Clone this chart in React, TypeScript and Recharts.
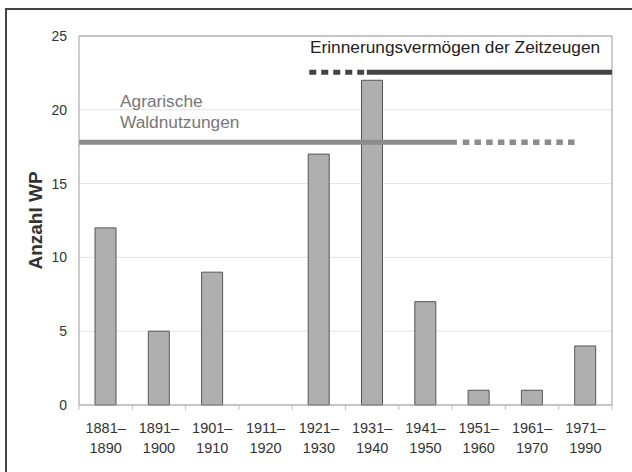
import React from 'react';
import { BarChart, Bar, XAxis, YAxis, CartesianGrid, ReferenceLine, Label } from 'recharts';

// ---- data ----
const periods = [
  '1881–1890', '1891–1900', '1901–1910', '1911–1920', '1921–1930',
  '1931–1940', '1941–1950', '1951–1960', '1961–1970', '1971–1990',
];
const counts = [12, 5, 9, 0, 17, 22, 7, 1, 1, 4];
const yTicks = [0, 5, 10, 15, 20, 25];

// overlay bars (in category-index units 0..10)
const agrarLevel = 17.8;
const agrarSolid = [0, 7.09];
const agrarDotted = [7.2, 9.3];
const memoryLevel = 22.55;
const memoryDotted = [4.32, 5.35];
const memorySolid = [5.4, 10];

const data = periods.map((p, i) => ({ period: p, count: counts[i], slot: i }));

const FONT = '"Liberation Sans", Arial, Helvetica, sans-serif';

const PeriodTick = (props: any) => {
  const { x, y, payload } = props;
  const [a, b] = String(payload.value).split('–');
  const half = payload.offset ?? 0;
  const isLast = payload.value === periods[periods.length - 1];
  return (
    <g>
      <line x1={x - half} x2={x - half} y1={y} y2={y + 5} stroke="#bdbdbd" />
      {isLast && <line x1={x + half} x2={x + half} y1={y} y2={y + 5} stroke="#bdbdbd" />}
      <text x={x} y={y + 28} textAnchor="middle" fontSize={14.5} fill="#333" fontFamily={FONT}>
        {a}–
      </text>
      <text x={x} y={y + 48} textAnchor="middle" fontSize={14.5} fill="#333" fontFamily={FONT}>
        {b}
      </text>
    </g>
  );
};

const YLabel = (p: any) => {
  const vb = p.viewBox || { x: 0, y: 36, width: 79, height: 369 };
  const cx = vb.x + 35;
  const cy = vb.y + vb.height / 2;
  return (
    <text
      x={cx}
      y={cy}
      transform={`rotate(-90 ${cx} ${cy})`}
      textAnchor="middle"
      dominantBaseline="central"
      fontSize={19}
      fontWeight="bold"
      fill="#333"
      fontFamily={FONT}
    >
      Anzahl WP
    </text>
  );
};

export default function App() {
  return (
    <div
      style={{
        position: 'absolute',
        left: 0,
        top: 0,
        width: 632,
        height: 472,
        overflow: 'hidden',
        background: '#fff',
        fontFamily: FONT,
      }}
    >
      <div
        style={{
          position: 'absolute',
          left: 5,
          top: 8,
          width: 700,
          height: 600,
          borderLeft: '2px solid #444',
          borderTop: '2px solid #444',
        }}
      />
      <div style={{ position: 'absolute', left: 0, top: 0 }}>
        <BarChart
          width={632}
          height={472}
          data={data}
          margin={{ top: 36, right: 20, bottom: 7, left: 0 }}
        >
          <CartesianGrid vertical={false} stroke="#e4e4e4" />
          <XAxis
            dataKey="period"
            height={60}
            interval={0}
            tickSize={0}
            tickMargin={0}
            tickLine={false}
            axisLine={{ stroke: '#9a9a9a' }}
            tick={<PeriodTick />}
          />
          <XAxis
            xAxisId="num"
            dataKey="slot"
            type="number"
            domain={[0, 10]}
            allowDataOverflow={true}
            hide
          />
          <YAxis
            width={79}
            domain={[0, 25]}
            ticks={yTicks}
            interval={0}
            tickLine={false}
            tickSize={0}
            tickMargin={12}
            axisLine={{ stroke: '#9a9a9a' }}
            tick={{ fontSize: 14, fill: '#333', fontFamily: FONT }}
          >
            <Label content={<YLabel />} />
          </YAxis>
          <Bar
            dataKey="count"
            barSize={21}
            fill="#afafaf"
            stroke="#555"
            strokeWidth={1}
            isAnimationActive={false}
          />
          <ReferenceLine y={25} stroke="#9a9a9a" />
          <ReferenceLine xAxisId="num" x={10} stroke="#9a9a9a" ifOverflow="visible" />
          <ReferenceLine
            xAxisId="num"
            segment={[{ x: agrarSolid[0], y: agrarLevel }, { x: agrarSolid[1], y: agrarLevel }]}
            stroke="#8c8c8c"
            strokeWidth={5}
            ifOverflow="visible"
          />
          <ReferenceLine
            xAxisId="num"
            segment={[{ x: agrarDotted[0], y: agrarLevel }, { x: agrarDotted[1], y: agrarLevel }]}
            stroke="#8c8c8c"
            strokeWidth={5.5}
            strokeDasharray="6.5 5.2"
            ifOverflow="visible"
          />
          <ReferenceLine
            xAxisId="num"
            segment={[{ x: memoryDotted[0], y: memoryLevel }, { x: memoryDotted[1], y: memoryLevel }]}
            stroke="#444"
            strokeWidth={5}
            strokeDasharray="7 5"
            ifOverflow="visible"
          />
          <ReferenceLine
            xAxisId="num"
            segment={[{ x: memorySolid[0], y: memoryLevel }, { x: memorySolid[1], y: memoryLevel }]}
            stroke="#444"
            strokeWidth={5}
            ifOverflow="visible"
          />
        </BarChart>
      </div>
      <svg
        width={632}
        height={472}
        style={{ position: 'absolute', left: 0, top: 0, pointerEvents: 'none' }}
      >
        <text x={310} y={53} fontSize={17.3} fill="#222" fontFamily={FONT}>
          Erinnerungsvermögen der Zeitzeugen
        </text>
        <text x={120} y={107} fontSize={17.3} fill="#777" fontFamily={FONT}>
          Agrarische
        </text>
        <text x={120} y={128} fontSize={17.3} fill="#777" fontFamily={FONT}>
          Waldnutzungen
        </text>
      </svg>
    </div>
  );
}
